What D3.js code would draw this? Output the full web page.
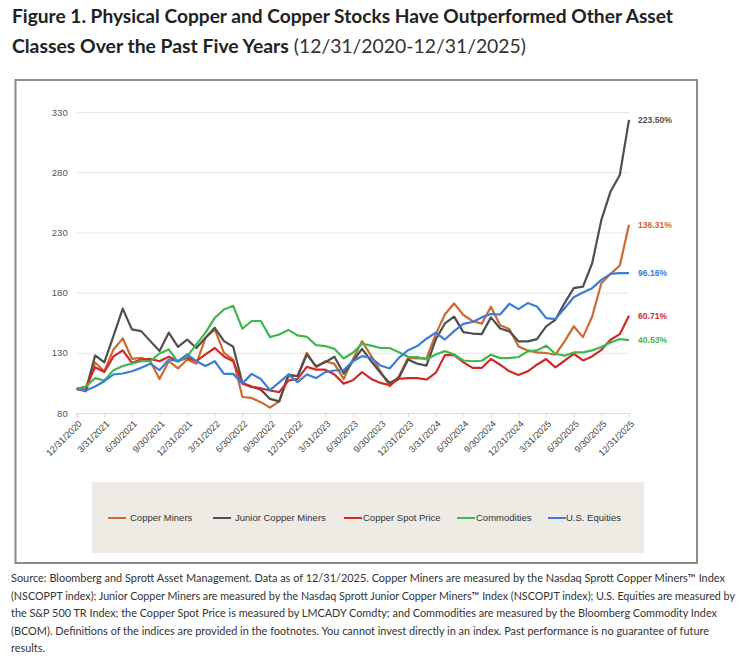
<!DOCTYPE html>
<html>
<head>
<meta charset="utf-8">
<script src="https://cdn.jsdelivr.net/npm/d3@7/dist/d3.min.js"></script>
<style>
	body { margin: 0; background: #fff; }
	svg text { font-family: "Liberation Sans", Arial, sans-serif; }
	svg text.page-text { font-family: Lato, "Noto Sans", sans-serif; fill: #222; }
</style>
</head>
<body>
<div id="chart-area"></div>
<script>

// quarter-end tick labels (one every 3 months)
var tickLabels = ["12/31/2020", "3/31/2021", "6/30/2021", "9/30/2021", "12/31/2021",
	"3/31/2022", "6/30/2022", "9/30/2022", "12/31/2022", "3/31/2023", "6/30/2023",
	"9/30/2023", "12/31/2023", "3/31/2024", "6/30/2024", "9/30/2024", "12/31/2024",
	"3/31/2025", "6/30/2025", "9/30/2025", "12/31/2025"];

var yTicks = [80, 130, 180, 230, 280, 330];

var seriesNames = ["Copper Miners", "Junior Copper Miners", "Copper Spot Price", "Commodities", "U.S. Equities"];

// month-end index values, 12/31/2020 = 100
var copperMiners = [100, 98, 122, 114.7, 132.8, 142, 125, 125.8, 123, 108.3, 123, 117, 124.4, 121, 142.5, 149.4,
	130, 124.4, 93.3, 92.5, 89, 84.5, 89.7, 110.5, 111, 130, 118, 123, 120.8, 108.3, 124.4, 139.7,
	127.2, 114.7, 102.2, 110.5, 125.8, 125.3, 125.3, 145.3, 162, 171, 161.4, 156.4, 154.2, 168.2,
	152.8, 149.7, 135.3, 132, 130.3, 129.8, 128.4, 139.5, 152, 143, 160.2, 187.8, 195.6, 202.5, 236.31];

var juniorMiners = [100, 99, 127.8, 122, 144, 166.7, 149.4, 148, 139.7, 131.4, 146.7, 135, 141, 134, 142.5, 150.8,
	139.7, 135, 105, 102, 99.4, 91.7, 89.7, 112, 110.5, 128.6, 118.9, 122.2, 126.7, 112.8, 123, 133.3,
	123, 113.3, 105, 109, 124.4, 121, 119.4, 141, 154.4, 160, 147.2, 146, 145.5, 159.4,
	150.2, 147.8, 139.5, 139.5, 141.4, 151.9, 157.4, 171.3, 183.7, 185, 204.4, 240.4, 264, 277.7, 323.5];

var copperSpot = [100, 101.5, 118, 114, 127, 132, 121.7, 124.4, 125, 123, 126.7, 123, 126, 123, 128.6, 134,
	127, 123, 104.4, 101.7, 100.6, 98.7, 97.3, 107, 108.3, 118.3, 116, 116, 112, 104.4, 107.2, 114,
	108.3, 105, 103, 108.3, 109, 109, 107.8, 113.3, 128, 128, 122.2, 117.5, 117.4, 124.9,
	120.1, 114.6, 111.5, 114.6, 120.1, 124.8, 117.9, 123.4, 129.2, 123.7, 127, 132.5, 140.8, 145.5, 160.71];

var commodities = [100, 102, 109, 107, 115.6, 119, 121, 123, 123, 129.4, 132.8, 122.5, 127, 137, 146.7, 159,
	166, 169, 150, 156.4, 156.4, 143, 145.2, 149, 144.4, 143.3, 136.4, 135.6, 133.3, 125.3, 130, 137.5,
	136, 134, 134, 130.5, 126.7, 126.4, 124.4, 128.6, 131.4, 128.6, 123.6, 123, 123.4, 128.4,
	125.6, 125.6, 126.5, 131.2, 132, 135.9, 129.2, 127.6, 130.3, 130.3, 132, 134.8, 138.6, 141.4, 140.53];

var usEquities = [100, 98.6, 102, 106.4, 112, 112.8, 114.7, 117.5, 121, 115.6, 124.4, 123, 128.6, 123, 119, 123,
	112.5, 112.5, 104.4, 112.5, 108.3, 99, 105.4, 112, 105.6, 112, 109, 114, 115.3, 115.6, 123, 127.2,
	125.8, 119.4, 117, 125.8, 132.2, 135.6, 141.7, 146.7, 141, 148, 154, 155.6, 159.4, 162.2,
	161.8, 170.7, 166.3, 171.3, 168.5, 158.8, 158, 167, 176.2, 180.1, 183.7, 190.6, 195.6, 196.2, 196.16];

var titleLine1 = "Figure 1. Physical Copper and Copper Stocks Have Outperformed Other Asset";
var titleLine2a = "Classes Over the Past Five Years";
var titleLine2b = " (12/31/2020-12/31/2025)";

var footnoteLines = [
	"Source: Bloomberg and Sprott Asset Management. Data as of 12/31/2025. Copper Miners are measured by the Nasdaq Sprott Copper Miners\u2122 Index",
	"(NSCOPPT index); Junior Copper Miners are measured by the Nasdaq Sprott Junior Copper Miners\u2122 Index (NSCOPJT index); U.S. Equities are measured by",
	"the S&P 500 TR Index; the Copper Spot Price is measured by LMCADY Comdty; and Commodities are measured by the Bloomberg Commodity Index",
	"(BCOM). Definitions of the indices are provided in the footnotes. You cannot invest directly in an index. Past performance is no guarantee of future",
	"results."
];


/*
 * CopperVis - Object constructor function
 * @param _parentElement 	-- the HTML element in which to draw the visualization
 * @param _data						-- list of {name, values, color}
 */

CopperVis = function(_parentElement, _data){
	this.parentElement = _parentElement;
	this.data = _data;

	this.initVis();
}

CopperVis.prototype.initVis = function(){
	var vis = this;

	vis.margin = { top: 112, right: 121, bottom: 246, left: 76.7 };
	vis.width = 750 - vis.margin.left - vis.margin.right,
	vis.height = 659 - vis.margin.top - vis.margin.bottom;

	vis.svg = d3.select("#" + vis.parentElement).append("svg")
		.attr("width", 750)
		.attr("height", 659)

	// title (two lines, second one half bold half regular)
	vis.svg.append("text")
		.attr("class", "page-text")
		.attr("x", 12)
		.attr("y", 23)
		.attr("font-size", 19.5)
		.attr("font-weight", "bold")
		.attr("textLength", 661)
		.attr("lengthAdjust", "spacingAndGlyphs")
		.text(titleLine1)

	var t2 = vis.svg.append("text")
		.attr("class", "page-text")
		.attr("x", 12)
		.attr("y", 53)
		.attr("font-size", 19.5)
		.attr("textLength", 514)
		.attr("lengthAdjust", "spacingAndGlyphs")
	t2.append("tspan").attr("font-weight", "bold").text(titleLine2a)
	t2.append("tspan").attr("font-weight", "normal").attr("fill", "#333").text(titleLine2b)

	// grey frame round the chart
	vis.svg.append("rect")
		.attr("x", 15.5)
		.attr("y", 80)
		.attr("width", 681.5)
		.attr("height", 483)
		.attr("fill", "none")
		.attr("stroke", "#8c8c8c")
		.attr("stroke-width", 2)

	vis.g = vis.svg.append("g")
		.attr("transform", "translate(" + vis.margin.left + "," + vis.margin.top + ")")

	vis.x = d3.scaleLinear()
		.domain([0, copperMiners.length - 1])
		.range([0, vis.width])
	vis.y = d3.scaleLinear()
		.domain([d3.min(yTicks), d3.max(yTicks)])
		.range([vis.height, 0])

	// gridlines
	var grid = vis.g.append("g")
		.call(d3.axisLeft(vis.y).tickValues(yTicks).tickSize(-vis.width).tickFormat(""))
	grid.select(".domain").remove()
	grid.selectAll("line").attr("stroke", "#e6e6e6")

	// y labels
	var yAxis = vis.g.append("g")
		.call(d3.axisLeft(vis.y).tickValues(yTicks).tickSize(0).tickPadding(9))
	yAxis.select(".domain").remove()
	yAxis.selectAll("text")
		.attr("fill", "#555")
		.style("font-size", "9.5px")
		.style("font-family", "'Liberation Sans', Arial, sans-serif")

	// x axis with rotated quarter labels
	var xAxis = vis.g.append("g")
		.attr("transform", "translate(0," + vis.height + ")")
		.call(d3.axisBottom(vis.x)
			.tickValues(d3.range(0, copperMiners.length, 3))
			.tickSize(4)
			.tickFormat(function(d, i){ return tickLabels[i]; }))
	xAxis.select(".domain").attr("stroke", "#dcdcdc")
	xAxis.selectAll(".tick line").attr("stroke", "#dcdcdc")
	xAxis.selectAll("text")
		.attr("x", 0)
		.attr("y", 0)
		.attr("dy", "0.35em")
		.attr("text-anchor", "end")
		.attr("transform", "translate(3,9) rotate(-45)")
		.attr("fill", "#444")
		.style("font-size", "9.2px")
		.style("font-family", "'Liberation Sans', Arial, sans-serif")

	// series lines
	var line = d3.line()
		.x(function(d, i){ return vis.x(i); })
		.y(function(d){ return vis.y(d); })

	vis.g.selectAll(".series")
		.data(vis.data)
		.enter()
		.append("path")
		.attr("class", "series")
		.attr("d", function(d){ return line(d.values); })
		.attr("fill", "none")
		.attr("stroke", function(d){ return d.color; })
		.attr("stroke-width", 2.2)
		.attr("stroke-linejoin", "round")

	// end labels (total return)
	vis.g.selectAll(".end-label")
		.data(vis.data)
		.enter()
		.append("text")
		.attr("class", "end-label")
		.attr("x", function(d){ return vis.x(d.values.length - 1) + 9; })
		.attr("y", function(d){ return vis.y(d.values[d.values.length - 1]); })
		.attr("dy", "0.35em")
		.attr("font-size", 8.6)
		.attr("font-weight", "bold")
		.attr("fill", function(d){ return d.color; })
		.text(function(d){ return d3.format(".2f")(d.values[d.values.length - 1] - 100) + "%"; })

	// legend
	var legendLayout = [[108, 130], [213, 235], [344, 363], [457, 476], [548, 566]];

	vis.svg.append("rect")
		.attr("x", 92)
		.attr("y", 482)
		.attr("width", 552)
		.attr("height", 71)
		.attr("fill", "#eeebe4")

	var legend = vis.svg.selectAll(".legend-item")
		.data(vis.data)
		.enter()
		.append("g")
		.attr("class", "legend-item")

	legend.append("line")
		.attr("x1", function(d, i){ return legendLayout[i][0]; })
		.attr("x2", function(d, i){ return legendLayout[i][0] + 18; })
		.attr("y1", 518)
		.attr("y2", 518)
		.attr("stroke", function(d){ return d.color; })
		.attr("stroke-width", 2)

	legend.append("text")
		.attr("x", function(d, i){ return legendLayout[i][1]; })
		.attr("y", 518)
		.attr("dy", "0.35em")
		.attr("font-size", 9.5)
		.attr("fill", "#333")
		.text(function(d){ return d.name; })

	// footnote
	var footWidths = [714, 724, 706, 698, null];
	vis.svg.selectAll(".footnote")
		.data(footnoteLines)
		.enter()
		.append("text")
		.attr("class", "page-text footnote")
		.attr("x", 11)
		.attr("y", function(d, i){ return 582 + i * 17.5; })
		.attr("font-size", 10.9)
		.style("fill", "#333")
		.each(function(d, i){
			if (footWidths[i]) d3.select(this).attr("textLength", footWidths[i]).attr("lengthAdjust", "spacingAndGlyphs");
		})
		.text(function(d){ return d; })
}

var seriesColors = ["#cc6a30", "#4f4f4f", "#d12a2a", "#3fb84f", "#3b7dd8"];
var seriesValues = [copperMiners, juniorMiners, copperSpot, commodities, usEquities];

var chartData = seriesNames.map(function(name, i){
	return { name: name, values: seriesValues[i], color: seriesColors[i] };
});

var copperVis = new CopperVis("chart-area", chartData);

</script>
</body>
</html>
